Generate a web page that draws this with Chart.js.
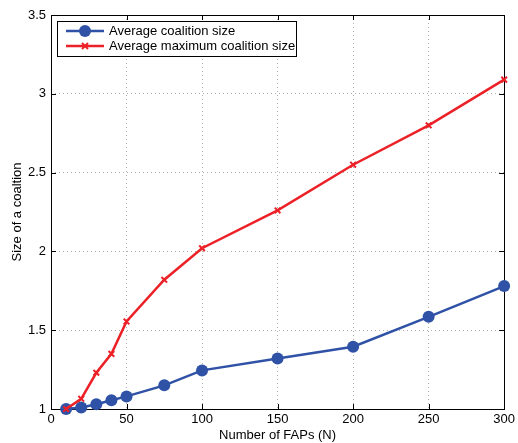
<!DOCTYPE html>
<html>
<head>
<meta charset="utf-8">
<script src="https://cdn.jsdelivr.net/npm/chart.js@4.4.1/dist/chart.umd.min.js"></script>
<style>
  body { margin: 0; background: #fff; }
  #wrap { width: 518px; height: 443px; }
</style>
</head>
<body>
<div id="wrap"><canvas id="chart" width="518" height="443"></canvas></div>
<script>
// data
var fapCounts = [10, 20, 30, 40, 50, 75, 100, 150, 200, 250, 300];
var avgSize = [1.0, 1.01, 1.03, 1.055, 1.08, 1.15, 1.245, 1.32, 1.395, 1.585, 1.78];
var avgMaxSize = [1.0, 1.065, 1.23, 1.35, 1.555, 1.82, 2.02, 2.26, 2.55, 2.80, 3.09];
var xTicks = [0, 50, 100, 150, 200, 250, 300];
var yTicks = [1, 1.5, 2, 2.5, 3, 3.5];

var BLUE = '#2f52a6';
var RED = '#ec2127';
var FONT = 'Liberation Sans, Arial, sans-serif';

function toPoints(ys) {
  return fapCounts.map(function(x, i) { return {x: x, y: ys[i]}; });
}

// box + inward ticks, matlab style
var framePlugin = {
  id: 'frame',
  beforeDatasetsDraw: function(chart) {
    var ctx = chart.ctx, a = chart.chartArea;
    var xs = chart.scales.x, ys = chart.scales.y;
    var len = 5;
    ctx.save();
    ctx.strokeStyle = '#000';
    ctx.lineWidth = 1;
    ctx.beginPath();
    xTicks.forEach(function(v) {
      var px = Math.round(xs.getPixelForValue(v)) + 0.5;
      ctx.moveTo(px, a.bottom); ctx.lineTo(px, a.bottom - len);
      ctx.moveTo(px, a.top); ctx.lineTo(px, a.top + len);
    });
    yTicks.forEach(function(v) {
      var py = Math.round(ys.getPixelForValue(v)) + 0.5;
      ctx.moveTo(a.left, py); ctx.lineTo(a.left + len, py);
      ctx.moveTo(a.right, py); ctx.lineTo(a.right - len, py);
    });
    ctx.stroke();
    ctx.strokeRect(Math.round(a.left) + 0.5, Math.round(a.top) + 0.5,
      Math.round(a.right - a.left), Math.round(a.bottom - a.top));
    ctx.restore();
  },
  afterDraw: function(chart) {
    // legend box inside the plot, top-left
    var ctx = chart.ctx, a = chart.chartArea;
    var bx = a.left + 6, by = a.top + 6, bw = 239, bh = 35;
    ctx.save();
    ctx.fillStyle = '#fff';
    ctx.fillRect(bx, by, bw, bh);
    ctx.strokeStyle = '#000';
    ctx.lineWidth = 1;
    ctx.strokeRect(Math.round(bx) + 0.5, Math.round(by) + 0.5, bw, bh);
    ctx.font = '13px ' + FONT;
    ctx.textBaseline = 'middle';
    chart.data.datasets.forEach(function(ds, i) {
      var ry = by + 10 + i * 15;
      var x0 = bx + 9, x1 = bx + 47, mx = (x0 + x1) / 2;
      ctx.strokeStyle = ds.borderColor;
      ctx.lineWidth = ds.borderWidth;
      ctx.beginPath();
      ctx.moveTo(x0, ry); ctx.lineTo(x1, ry);
      ctx.stroke();
      ctx.fillStyle = ds.pointBackgroundColor;
      ctx.strokeStyle = ds.pointBorderColor;
      ctx.lineWidth = ds.pointBorderWidth;
      ctx.beginPath();
      if (ds.pointStyle === 'circle') {
        ctx.arc(mx, ry, ds.pointRadius, 0, Math.PI * 2);
        ctx.fill();
      } else {
        var r = ds.pointRadius * 0.75;
        ctx.moveTo(mx - r, ry - r); ctx.lineTo(mx + r, ry + r);
        ctx.moveTo(mx + r, ry - r); ctx.lineTo(mx - r, ry + r);
        ctx.stroke();
      }
      ctx.fillStyle = '#000';
      ctx.fillText(ds.label, bx + 52, ry + 0.5);
    });
    ctx.restore();
  }
};

var ctx = document.getElementById('chart').getContext('2d');
var chart = new Chart(ctx, {
  type: 'line',
  data: {
    datasets: [{
      label: 'Average coalition size',
      data: toPoints(avgSize),
      borderColor: BLUE,
      backgroundColor: BLUE,
      borderWidth: 2.5,
      pointStyle: 'circle',
      pointRadius: 6,
      pointBackgroundColor: BLUE,
      pointBorderColor: BLUE,
      pointBorderWidth: 0,
      order: 1,
      clip: false
    }, {
      label: 'Average maximum coalition size',
      data: toPoints(avgMaxSize),
      borderColor: RED,
      backgroundColor: RED,
      borderWidth: 2.5,
      pointStyle: 'crossRot',
      pointRadius: 4,
      pointBackgroundColor: RED,
      pointBorderColor: RED,
      pointBorderWidth: 2,
      order: 0,
      clip: false
    }]
  },
  options: {
    responsive: false,
    animation: false,
    layout: { padding: { top: 15, right: 11, left: 0, bottom: 0 } },
    plugins: {
      legend: { display: false },
      tooltip: { enabled: false }
    },
    elements: { line: { tension: 0 } },
    scales: {
      x: {
        type: 'linear',
        min: 0, max: 300,
        afterBuildTicks: function(s) { s.ticks = xTicks.map(function(v) { return {value: v}; }); },
        afterFit: function(s) { s.height = 34; },
        border: { display: false, dash: [1, 3] },
        grid: { color: '#b0b0b0', lineWidth: 1, drawTicks: false },
        ticks: { color: '#000', padding: 3, maxRotation: 0, font: { family: FONT, size: 13 },
          callback: function(v) { return String(v); } },
        title: { display: true, text: 'Number of FAPs (N)', color: '#000', padding: { top: 1, bottom: 0 }, font: { family: FONT, size: 13 } }
      },
      y: {
        type: 'linear',
        min: 1, max: 3.5,
        afterBuildTicks: function(s) { s.ticks = yTicks.map(function(v) { return {value: v}; }); },
        afterFit: function(s) { s.width = 51; },
        border: { display: false, dash: [1, 3] },
        grid: { color: '#b0b0b0', lineWidth: 1, drawTicks: false },
        ticks: { color: '#000', padding: 5, font: { family: FONT, size: 13 },
          callback: function(v) { return String(v); } },
        title: { display: true, text: 'Size of a coaltion', color: '#000', padding: { top: 10, bottom: 2 }, font: { family: FONT, size: 13 } }
      }
    }
  },
  plugins: [framePlugin]
});
</script>
</body>
</html>
